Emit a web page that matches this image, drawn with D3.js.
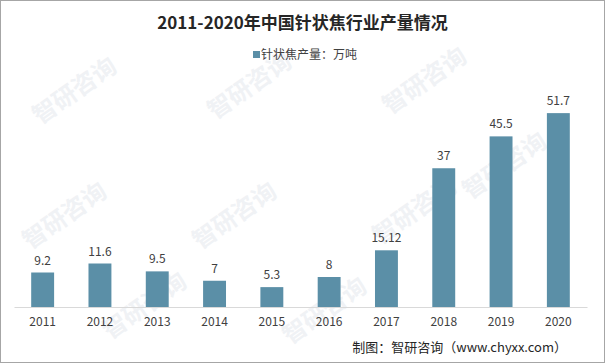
<!DOCTYPE html>
<html>
<head>
<meta charset="utf-8">
<script src="https://cdn.jsdelivr.net/npm/d3@7"></script>
<style>
  body { margin: 0; background: #fff; }
  svg { display: block; font-family: "Noto Sans CJK SC", "Noto Sans", sans-serif; }
</style>
</head>
<body>
<script>
const years = ['2011', '2012', '2013', '2014', '2015', '2016', '2017', '2018', '2019', '2020'];
const output = [9.2, 11.6, 9.5, 7, 5.3, 8, 15.12, 37, 45.5, 51.7];
const labels = ['9.2', '11.6', '9.5', '7', '5.3', '8', '15.12', '37', '45.5', '51.7'];

const width = 605;
const height = 363;
const margin = { left: 14, right: 18, top: 82, bottom: 56 };

const svg = d3.select('body')
  .append('svg')
  .attr('width', width)
  .attr('height', height);

svg.append('rect')
  .attr('x', 0.5).attr('y', 0.5)
  .attr('width', width - 1).attr('height', height - 1)
  .attr('fill', '#fff')
  .attr('stroke', '#a6a6a6');

// faint watermark
const marks = [[40, 125], [215, 120], [390, 115], [30, 250], [200, 250], [380, 245], [470, 200], [110, 340], [290, 345]];
svg.append('g')
  .selectAll('text')
  .data(marks)
  .join('text')
    .attr('transform', d => `translate(${d[0]},${d[1]}) rotate(-35)`)
    .attr('fill', '#f0f2f5')
    .attr('font-size', 24)
    .attr('font-weight', 'bold')
    .text('智研咨询');

const x = d3.scaleBand()
  .domain(years)
  .range([margin.left, width - margin.right])
  .paddingInner(0.6)
  .paddingOuter(0.3);

const y = d3.scaleLinear()
  .domain([0, 60])
  .range([height - margin.bottom, margin.top]);

svg.append('g')
  .selectAll('rect')
  .data(years)
  .join('rect')
    .attr('x', d => x(d))
    .attr('width', x.bandwidth())
    .attr('y', (d, i) => y(output[i]))
    .attr('height', (d, i) => y(0) - y(output[i]))
    .attr('fill', '#5b8fa7');

svg.append('g')
  .attr('font-size', 12)
  .attr('fill', '#404040')
  .attr('text-anchor', 'middle')
  .selectAll('text')
  .data(years)
  .join('text')
    .attr('x', d => x(d) + x.bandwidth() / 2)
    .attr('y', (d, i) => y(output[i]) - 8)
    .text((d, i) => labels[i]);

const axis = svg.append('g')
  .attr('transform', `translate(0,${y(0)})`)
  .call(d3.axisBottom(x).tickSize(0).tickPadding(10));
axis.select('.domain').attr('stroke', '#d9d9d9');
axis.selectAll('text')
  .attr('font-size', 12)
  .attr('fill', '#404040')
  .attr('font-family', '"Noto Sans CJK SC", "Noto Sans", sans-serif');

svg.append('text')
  .attr('x', width / 2)
  .attr('y', 29)
  .attr('text-anchor', 'middle')
  .attr('font-size', 17)
  .attr('font-weight', 'bold')
  .attr('fill', '#262626')
  .text('2011-2020年中国针状焦行业产量情况');

svg.append('rect')
  .attr('x', 253).attr('y', 51)
  .attr('width', 7).attr('height', 7)
  .attr('fill', '#5b8fa7');
svg.append('text')
  .attr('x', 261)
  .attr('y', 59)
  .attr('font-size', 12)
  .attr('fill', '#404040')
  .text('针状焦产量：万吨');

svg.append('text')
  .attr('x', 567)
  .attr('y', 352)
  .attr('text-anchor', 'end')
  .attr('font-size', 13)
  .attr('fill', '#262626')
  .text('制图：智研咨询（www.chyxx.com）');
</script>
</body>
</html>
